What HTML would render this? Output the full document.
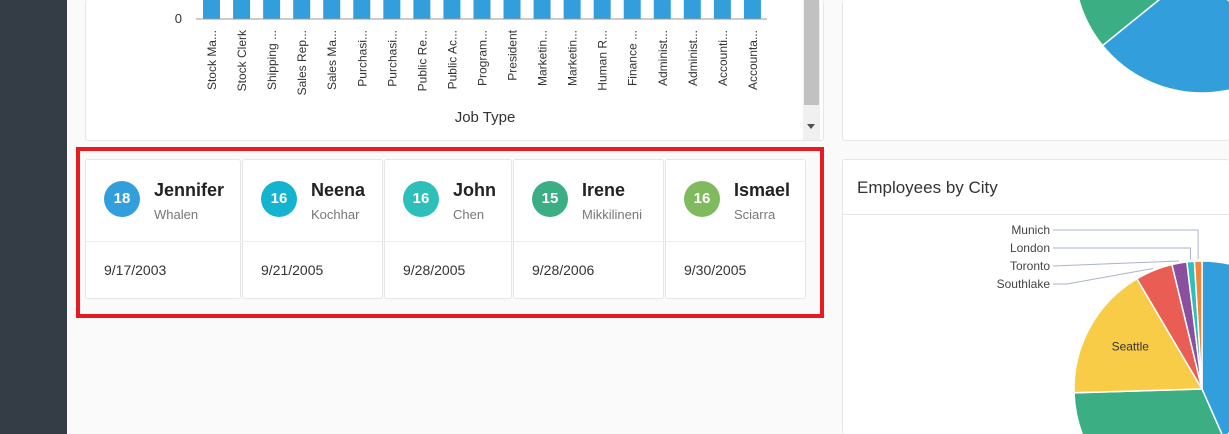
<!DOCTYPE html>
<html><head><meta charset="utf-8">
<style>
html,body{margin:0;width:1229px;height:434px;overflow:hidden}
body{background:#fafafa;font-family:"Liberation Sans",sans-serif;position:relative}
.abs{position:absolute}
.card{position:absolute;background:#fff;border:1px solid #e6e6e6;border-radius:3px;box-sizing:border-box}
.emp{top:159px;height:140px}
.emp .top{position:absolute;left:0;right:0;top:0;height:81px;border-bottom:1px solid #ececec}
.badge{position:absolute;left:18px;top:21px;width:36px;height:36px;border-radius:50%;color:#fff;font-weight:bold;font-size:15px;text-align:center;line-height:36px}
.fn{position:absolute;left:68px;top:20px;font-size:18px;font-weight:bold;color:#222}
.ln{position:absolute;left:68px;top:47px;font-size:13px;color:#777}
.dt{position:absolute;left:18px;top:102px;font-size:14px;color:#333}
</style></head><body>
<div class="abs" style="left:0;top:0;width:67px;height:434px;background:#343d46"></div>

<div class="card" style="left:85px;top:0;width:739px;height:141px;border-top:none">
<svg id="bar" width="739" height="141" style="position:absolute;left:-1px;top:-5px;overflow:visible"></svg>
<div class="abs" style="left:717px;top:0;width:17px;height:140px;background:#f0f0f0">
<div style="position:absolute;left:1px;top:0;width:15px;height:105px;background:#c1c1c1"></div>
<div style="position:absolute;left:4px;top:124px;width:0;height:0;border-left:4px solid transparent;border-right:4px solid transparent;border-top:5px solid #505050"></div>
</div>
</div>

<div class="abs" style="left:76px;top:147px;width:748px;height:171px;border:4px solid #e8191f;box-sizing:border-box"></div>

<div class="card emp" style="left:85px;width:156px"><div class="top"></div><div class="badge" style="background:#329fdc">18</div><div class="fn">Jennifer</div><div class="ln">Whalen</div><div class="dt">9/17/2003</div></div>
<div class="card emp" style="left:242px;width:141px"><div class="top"></div><div class="badge" style="background:#14b4d0">16</div><div class="fn">Neena</div><div class="ln">Kochhar</div><div class="dt">9/21/2005</div></div>
<div class="card emp" style="left:384px;width:128px"><div class="top"></div><div class="badge" style="background:#2ebfbb">16</div><div class="fn">John</div><div class="ln">Chen</div><div class="dt">9/28/2005</div></div>
<div class="card emp" style="left:513px;width:151px"><div class="top"></div><div class="badge" style="background:#3cae83">15</div><div class="fn">Irene</div><div class="ln">Mikkilineni</div><div class="dt">9/28/2006</div></div>
<div class="card emp" style="left:665px;width:141px"><div class="top"></div><div class="badge" style="background:#7fbb5e">16</div><div class="fn">Ismael</div><div class="ln">Sciarra</div><div class="dt">9/30/2005</div></div>

<div class="card" style="left:842px;top:0;width:387px;height:141px;overflow:hidden;border-top:none;border-right:none">
<svg id="pie1" width="387" height="141" style="position:absolute;left:-1px;top:-5px"></svg></div>

<div class="card" style="left:842px;top:159px;width:387px;height:275px;overflow:hidden;border-bottom:none;border-right:none">
<div class="abs" style="left:14px;top:18px;font-size:17px;color:#333">Employees by City</div>
<div class="abs" style="left:0;right:0;top:54px;border-top:1px solid #e6e6e6"></div>
<svg id="pie2" width="387" height="275" style="position:absolute;left:-1px;top:-1px"></svg></div>

<script>
const NS='http://www.w3.org/2000/svg';
function mk(p,t,a){const e=document.createElementNS(NS,t);for(const k in a)e.setAttribute(k,a[k]);p.appendChild(e);return e;}
const jobs=["Stock Ma...","Stock Clerk","Shipping ...","Sales Rep...","Sales Ma...","Purchasi...","Purchasi...","Public Re...","Public Ac...","Program...","President","Marketin...","Marketin...","Human R...","Finance ...","Administ...","Administ...","Accounti...","Accounta..."];
const counts=[5,20,20,30,5,5,1,1,1,5,1,1,1,1,5,1,1,1,1];
const bar=document.getElementById('bar');
const x0=111,step=30.05,baseY=24;
const yScale=v=>baseY-v*60;
jobs.forEach((j,i)=>{
 const cx=x0+step*(i+0.5);
 const r=mk(bar,'rect',{x:cx-8,y:yScale(counts[i]),width:17,height:baseY-yScale(counts[i]),fill:'#329fdc'});
 
 
 const t=mk(bar,'text',{x:0,y:0,transform:`translate(${cx+5},${baseY+11}) rotate(-90)`,'text-anchor':'end','font-size':'12',fill:'#333'});
 t.textContent=j;
 
 
});
mk(bar,'line',{x1:111,x2:682,y1:baseY,y2:baseY,stroke:'#999','stroke-width':1});
const z=mk(bar,'text',{x:97,y:baseY+4,'text-anchor':'end','font-size':'13',fill:'#333'});z.textContent='0';


const jt=mk(bar,'text',{x:400,y:127,'text-anchor':'middle','font-size':'15',fill:'#333'});jt.textContent='Job Type';



function arc(svg,cx,cy,r,a0,a1,fill){
 const p=a=>[cx+r*Math.sin(a*Math.PI/180),cy-r*Math.cos(a*Math.PI/180)];
 const [sx,sy]=p(a0),[ex,ey]=p(a1);
 return mk(svg,'path',{d:`M${cx},${cy}L${sx},${sy}A${r},${r} 0 ${a1-a0>180?1:0} 1 ${ex},${ey}Z`,fill,stroke:'#fff','stroke-width':1.5});
}
const topVals=[45,30,25];
const topColors=['#329fdc','#3cae83','#f9cc48'];
const p1=document.getElementById('pie1');
{const tot=topVals.reduce((a,b)=>a+b);
 let a=231-topVals[0]/tot*360;
 topVals.forEach((v,i)=>{const s=v/tot*360;const e=arc(p1,360,-30,128,a,a+s,topColors[i]);
 
 a+=s;});
}
const cities=["South San Francisco","Oxford","Seattle","Southlake","Toronto","London","Munich"];
const cityCounts=[46,33,18,5,2,1,1];
const cityColors=['#329fdc','#3cae83','#f9cc48','#e95d55','#8a4f9e','#2ebfbb','#f0863b'];
const p2=document.getElementById('pie2');
const cx=360,cy=230,R=128;
const tot=cityCounts.reduce((a,b)=>a+b);
let a=0;const mids=[];
cityCounts.forEach((v,i)=>{const s=v/tot*360;const e=arc(p2,cx,cy,R,a,a+s,cityColors[i]);
 
 mids.push(a+s/2);a+=s;});
{const m=mids[2]*Math.PI/180;const t=mk(p2,'text',{x:cx+R*0.64*Math.sin(m),y:cy-R*0.64*Math.cos(m)+1,'text-anchor':'middle','font-size':'12',fill:'#333'});t.textContent='Seattle';
 
 }
const lblY=[125,107,89,71];
[3,4,5,6].forEach((ci,k)=>{
 const m=mids[ci]*Math.PI/180;const px=cx+(R+2)*Math.sin(m),py=cy-(R+2)*Math.cos(m);
 const y=lblY[k];
 let pts;
 if(ci>=5) pts=`211,${y} ${px},${y} ${px},${py}`;
 else if(ci==4) pts=`211,${y} ${px},${py}`;
 else pts=`211,${y} 225,${y} ${px},${py}`;
 const l=mk(p2,'polyline',{points:pts,fill:'none',stroke:'#aab4c8','stroke-width':1});
 
 
 const t=mk(p2,'text',{x:208,y:y+4,'text-anchor':'end','font-size':'12',fill:'#444'});t.textContent=cities[ci];
 
 
});
</script>
</body></html>
